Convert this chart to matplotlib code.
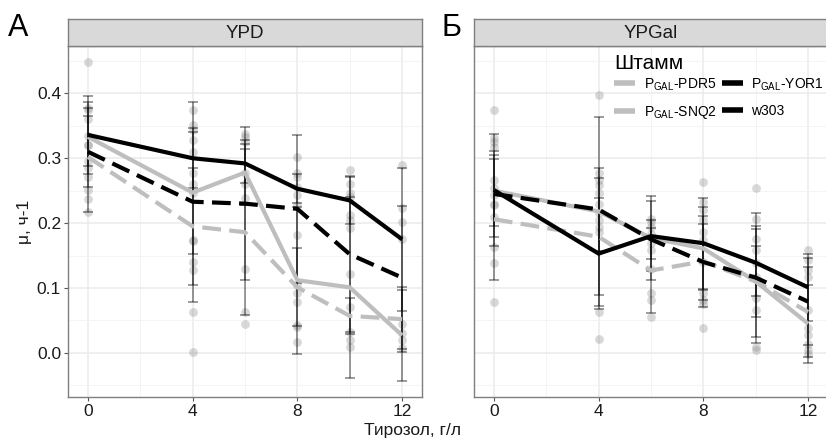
import matplotlib
matplotlib.use("Agg")
import matplotlib.pyplot as plt

plt.rcParams['font.family'] = ['Liberation Sans', 'DejaVu Sans']
plt.rcParams['mathtext.fontset'] = 'custom'
plt.rcParams['mathtext.rm'] = 'Liberation Sans'
plt.rcParams['mathtext.it'] = 'Liberation Sans'

doses = [0, 4, 6, 8, 10, 12]

# YPD means / sd
ypd_pdr5 = [0.333, 0.247, 0.278, 0.112, 0.101, 0.027]
ypd_snq2 = [0.302, 0.195, 0.186, 0.101, 0.057, 0.052]
ypd_yor1 = [0.310, 0.233, 0.230, 0.222, 0.152, 0.116]
ypd_w303 = [0.336, 0.300, 0.292, 0.253, 0.235, 0.175]
ypd_pdr5_sd = [0.045, 0.094, 0.050, 0.113, 0.140, 0.070]
ypd_snq2_sd = [0.085, 0.090, 0.128, 0.060, 0.028, 0.050]
ypd_yor1_sd = [0.055, 0.154, 0.118, 0.114, 0.120, 0.110]
ypd_w303_sd = [0.060, 0.046, 0.030, 0.022, 0.036, 0.110]

# YPGal means / sd
ypgal_pdr5 = [0.250, 0.218, 0.177, 0.161, 0.110, 0.045]
ypgal_snq2 = [0.206, 0.179, 0.127, 0.141, 0.110, 0.063]
ypgal_yor1 = [0.245, 0.221, 0.175, 0.140, 0.116, 0.079]
ypgal_w303 = [0.251, 0.153, 0.180, 0.169, 0.139, 0.101]
ypgal_pdr5_sd = [0.055, 0.145, 0.065, 0.064, 0.055, 0.060]
ypgal_snq2_sd = [0.093, 0.090, 0.066, 0.070, 0.085, 0.070]
ypgal_yor1_sd = [0.066, 0.064, 0.030, 0.058, 0.100, 0.067]
ypgal_w303_sd = [0.087, 0.085, 0.054, 0.070, 0.052, 0.052]

# individual replicates, one list per dose
ypd_pts = [
    [0.448, 0.378, 0.375, 0.360, 0.335, 0.320, 0.320, 0.295, 0.285, 0.271, 0.251, 0.237, 0.217],
    [0.374, 0.351, 0.343, 0.328, 0.310, 0.277, 0.261, 0.246, 0.174, 0.172, 0.140, 0.128, 0.063, 0.002],
    [0.338, 0.333, 0.325, 0.277, 0.261, 0.238, 0.129, 0.063, 0.045],
    [0.302, 0.277, 0.271, 0.256, 0.243, 0.228, 0.181, 0.104, 0.092, 0.079, 0.043, 0.040, 0.017],
    [0.282, 0.261, 0.246, 0.241, 0.212, 0.205, 0.192, 0.122, 0.071, 0.032, 0.020, 0.009],
    [0.289, 0.223, 0.202, 0.176, 0.045, 0.030, 0.020, 0.007],
]
ypgal_pts = [
    [0.374, 0.331, 0.325, 0.318, 0.266, 0.254, 0.243, 0.230, 0.228, 0.210, 0.163, 0.138, 0.079],
    [0.398, 0.277, 0.266, 0.259, 0.246, 0.230, 0.215, 0.205, 0.194, 0.187, 0.063, 0.022],
    [0.206, 0.202, 0.194, 0.184, 0.169, 0.158, 0.130, 0.093, 0.081, 0.055],
    [0.264, 0.233, 0.220, 0.205, 0.187, 0.174, 0.140, 0.092, 0.081, 0.076, 0.039],
    [0.254, 0.207, 0.176, 0.158, 0.138, 0.117, 0.084, 0.066, 0.009, 0.004],
    [0.158, 0.143, 0.128, 0.117, 0.066, 0.038, 0.027, 0.014, 0.004, -0.001],
]

labels = [r'P$_{\mathrm{GAL}}$-PDR5', r'P$_{\mathrm{GAL}}$-SNQ2',
          r'P$_{\mathrm{GAL}}$-YOR1', 'w303']
colors = ['#bebebe', '#bebebe', 'black', 'black']
styles = ['-', (0, (4.5, 2)), (0, (4.5, 2)), '-']

W, H = 826, 442
fig = plt.figure(figsize=(W / 100, H / 100), dpi=100)


def px_axes(x0, y0, x1, y1):
    return fig.add_axes([x0 / W, 1 - y1 / H, (x1 - x0) / W, (y1 - y0) / H])


def panel(x0, title, letter, letter_x, means, sds, pts, show_y):
    ax = px_axes(x0, 46, x0 + 354, 397)
    for d, vals in zip(doses, pts):
        ax.scatter([d] * len(vals), vals, s=40, color='#808080', alpha=0.3,
                   linewidths=0, zorder=2)
    for m, s in zip(means, sds):
        ax.errorbar(doses, m, yerr=s, fmt='none', ecolor='black', alpha=0.5,
                    elinewidth=1.1, capsize=3.6, capthick=1.1, zorder=3)
    handles = []
    for m, c, ls, lab in zip(means, colors, styles, labels):
        h, = ax.plot(doses, m, color=c, linestyle=ls, linewidth=3, label=lab,
                     zorder=4, solid_capstyle='butt', dash_capstyle='butt')
        handles.append(h)

    ax.set_xlim(-0.76, 12.76)
    ax.set_ylim(-0.068, 0.473)
    ax.set_xticks([0, 4, 8, 12])
    ax.set_xticks([2, 6, 10], minor=True)
    ax.set_yticks([0.0, 0.1, 0.2, 0.3, 0.4])
    ax.set_yticks([-0.05, 0.05, 0.15, 0.25, 0.35, 0.45], minor=True)
    ax.set_yticklabels(['0.0', '0.1', '0.2', '0.3', '0.4'] if show_y else [])
    ax.grid(which='major', color='#ebebeb', linewidth=1.1)
    ax.grid(which='minor', color='#f2f2f2', linewidth=0.6)
    ax.set_axisbelow(True)
    ax.tick_params(which='major', length=3, width=0.8, color='#555555',
                   labelsize=12.5, labelcolor='#1a1a1a', pad=2)
    ax.tick_params(which='minor', length=0)
    if not show_y:
        ax.tick_params(axis='y', length=0)
    for sp in ax.spines.values():
        sp.set_color('#7f7f7f')
        sp.set_linewidth(1)

    st = px_axes(x0, 19, x0 + 354, 46)
    st.set_xticks([])
    st.set_yticks([])
    st.set_facecolor('#d9d9d9')
    for sp in st.spines.values():
        sp.set_color('#7f7f7f')
        sp.set_linewidth(1)
    st.text(0.5, 0.45, title, ha='center', va='center', fontsize=13.5,
            color='#1a1a1a', transform=st.transAxes)

    fig.text(letter_x / W, 1 - 28 / H, letter, fontsize=22, ha='left',
             va='center', color='black')
    return ax, handles


ax1, _ = panel(68, 'YPD', 'А', 8,
               [ypd_pdr5, ypd_snq2, ypd_yor1, ypd_w303],
               [ypd_pdr5_sd, ypd_snq2_sd, ypd_yor1_sd, ypd_w303_sd],
               ypd_pts, True)
ax2, hs = panel(474, 'YPGal', 'Б', 441,
                [ypgal_pdr5, ypgal_snq2, ypgal_yor1, ypgal_w303],
                [ypgal_pdr5_sd, ypgal_snq2_sd, ypgal_yor1_sd, ypgal_w303_sd],
                ypgal_pts, False)

leg = ax2.legend(handles=hs, labels=labels, ncol=2, title='Штамм',
                 loc='upper left', bbox_to_anchor=(606 / W, 1 - 46 / H),
                 bbox_transform=fig.transFigure, frameon=False,
                 fontsize=10, title_fontsize=15, handlelength=1.5,
                 handletextpad=0.6, columnspacing=0.4, labelspacing=0.85,
                 borderpad=0.1, alignment='left')
leg._legend_box.sep = 2
for lh in leg.get_lines():
    lh.set_linewidth(4)

fig.text(0.5, 1 - 430 / H, 'Тирозол, г/л', ha='center', va='center',
         fontsize=12.5, color='#1a1a1a')
fig.text(24 / W, 1 - 222 / H, 'μ, ч-1', ha='center', va='center',
         rotation=90, fontsize=12.5, color='#1a1a1a')

fig.savefig('out.png', dpi=100)
